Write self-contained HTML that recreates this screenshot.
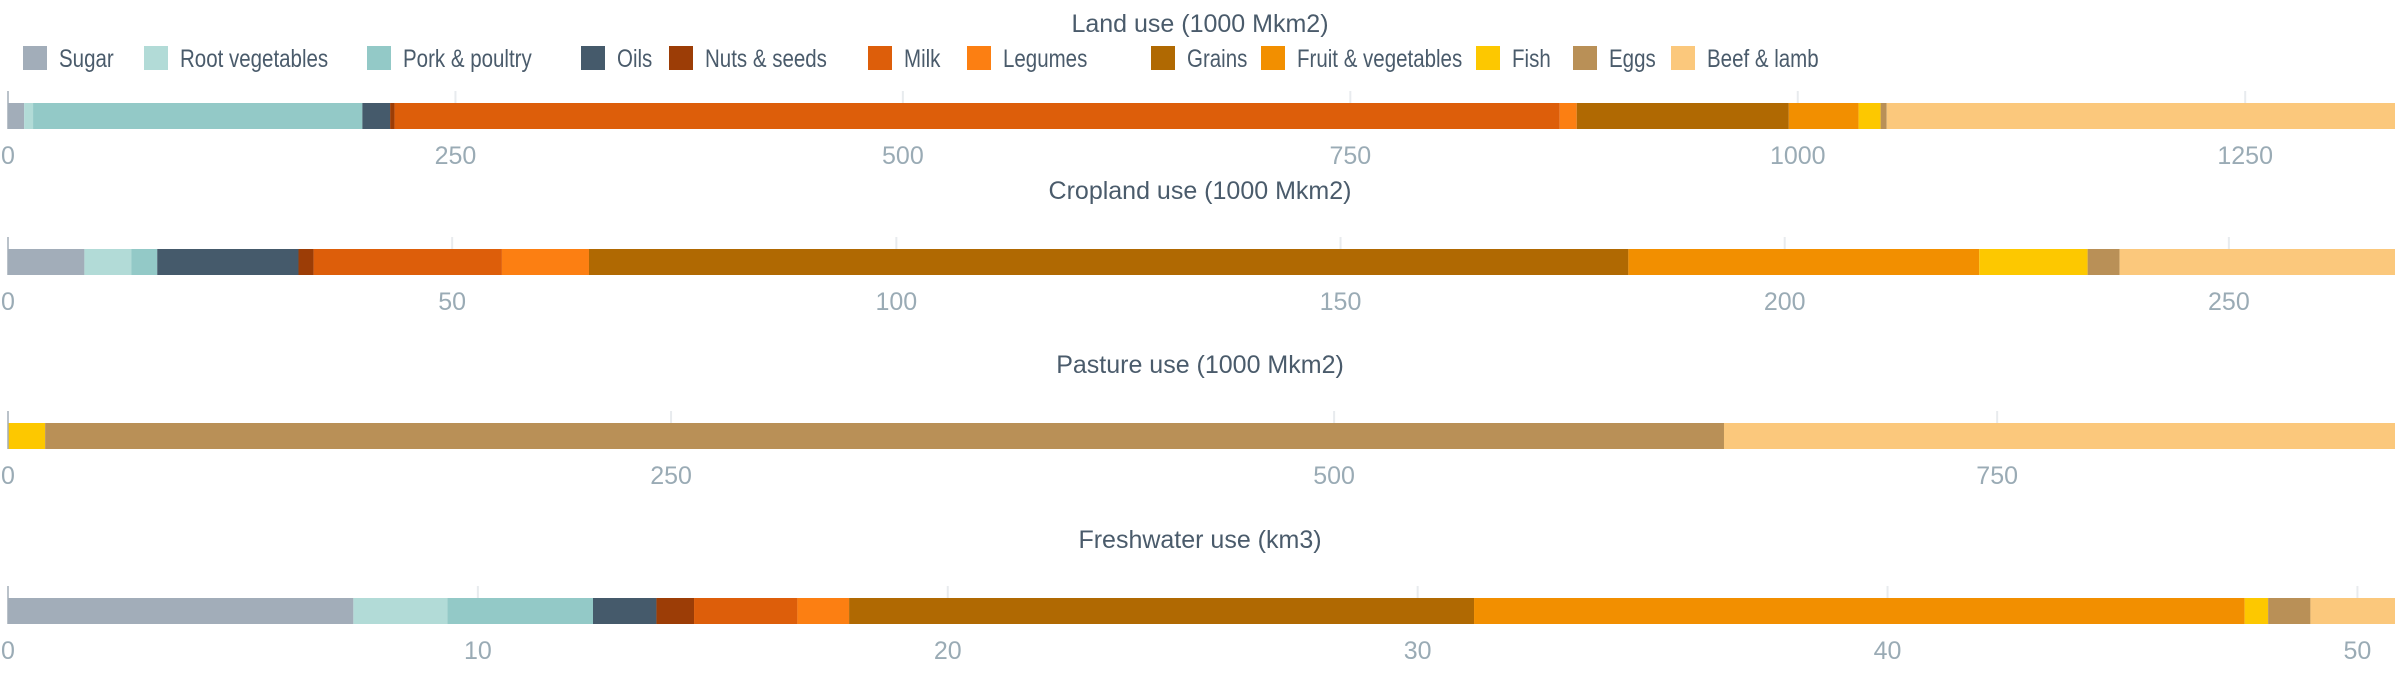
<!DOCTYPE html>
<html><head><meta charset="utf-8"><style>
html,body{margin:0;padding:0;background:#fff;}
svg{display:block;font-family:"Liberation Sans",sans-serif;}
</style></head><body>
<svg id="chart" width="2400" height="700"></svg>
<script>
const categories=["Sugar","Root vegetables","Pork & poultry","Oils","Nuts & seeds","Milk","Legumes","Grains","Fruit & vegetables","Fish","Eggs","Beef & lamb"];
const colors=["#a2adb9","#b2dbd7","#93c9c7","#455a6b","#9c3d06","#dd5e0a","#fc7f12","#b06902","#f28f00","#fdc800","#b99057","#fbc87c"];
const panelTitles=["Land use (1000 Mkm2)","Cropland use (1000 Mkm2)","Pasture use (1000 Mkm2)","Freshwater use (km3)"];
const landValues=[9,5,184,15.5,2.5,651,9.5,118.5,39,12.3,3.4,284];
const croplandValues=[8.6,5.3,2.9,15.9,1.7,21.2,9.8,117,39.5,12.2,3.6,31];
const pastureValues=[0,0,0,0,0,0,0,0,0,14,633,253];
const freshwaterValues=[7.35,2.0,3.1,1.35,0.8,2.2,1.1,13.3,16.4,0.5,0.9,1.8];
const landTicks=[0,250,500,750,1000,1250];
const croplandTicks=[0,50,100,150,200,250];
const pastureTicks=[0,250,500,750];
const freshwaterTicks=[0,10,20,30,40,50];

const NS="http://www.w3.org/2000/svg";
const svg=document.getElementById('chart');
function mk(tag,attrs,parent){const e=document.createElementNS(NS,tag);for(const k in attrs)e.setAttribute(k,attrs[k]);(parent||svg).appendChild(e);return e;}

// legend
const legendX=[23,144,367,581,669,868,967,1151,1261,1476,1573,1671];
const lg=mk('g',{});


categories.forEach((c,i)=>{
  const g=mk('g',{},lg);
  
  
  mk('rect',{x:legendX[i],y:46,width:24,height:24,fill:colors[i]},g);
  const tx=legendX[i]+36;
  const t=mk('text',{x:0,y:67,'font-size':25,fill:'#4a5b6b',transform:'translate('+tx+',0) scale(0.82,1)'},g);
  t.textContent=c;
});

const L=8,R=2395;
const panels=[
 {vals:landValues,ticks:landTicks,title:panelTitles[0],titleY:23,barY:103},
 {vals:croplandValues,ticks:croplandTicks,title:panelTitles[1],titleY:190,barY:249},
 {vals:pastureValues,ticks:pastureTicks,title:panelTitles[2],titleY:364,barY:423},
 {vals:freshwaterValues,ticks:freshwaterTicks,title:panelTitles[3],titleY:539,barY:598}
];
panels.forEach((p,pi)=>{
  const total=p.vals.reduce((a,b)=>a+b,0);
  const sx=v=>L+(R-L)*v/total;
  const g=mk('g',{});
  
  
  const t=mk('text',{x:1200,y:p.titleY+9,'text-anchor':'middle','font-size':25,fill:'#4a5b6b'},g);
  
  
  t.textContent=p.title;
  p.ticks.forEach(tv=>{
    const x=sx(tv);
    if(tv>0){const gl=mk('line',{x1:x,x2:x,y1:p.barY-12,y2:p.barY+26,stroke:'#e8ebee','stroke-width':2},g);
      
      }
    const tl=mk('text',{x:x,y:p.barY+61,'text-anchor':'middle','font-size':25,fill:'#9aabb5'},g);
    
    
    tl.textContent=tv;
  });
  let acc=0;
  p.vals.forEach((v,i)=>{
    if(v>0){
      const r=mk('rect',{x:sx(acc),y:p.barY,width:sx(acc+v)-sx(acc),height:26,fill:colors[i]},g);
      
      
    }
    acc+=v;
  });
  const ax=mk('line',{x1:L,x2:L,y1:p.barY-12,y2:p.barY+26,stroke:'#a2adb9','stroke-width':1.5},g);
  
  
});
</script>
</body></html>
